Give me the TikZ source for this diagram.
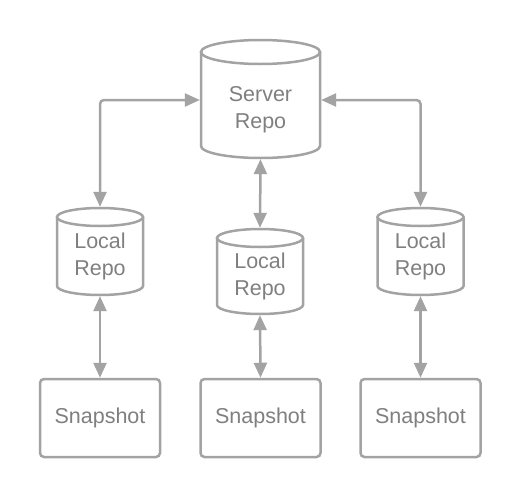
\documentclass[tikz,border=0pt]{standalone}
\usepackage{fontspec}
\setmainfont{Liberation Sans}
\usetikzlibrary{arrows.meta}

\definecolor{linegray}{HTML}{A3A3A3}
\definecolor{txtgray}{HTML}{7F7F7F}

\tikzset{
  repo/.style={rectangle, inner sep=0pt, text=txtgray, align=center,
    font=\fontsize{21.5}{27}\selectfont},
  repoline/.style={draw=linegray, line width=2.5pt},
  snapbox/.style={rectangle, rounded corners=4pt, draw=linegray,
    line width=2.5pt, minimum width=120pt, minimum height=78pt,
    text=txtgray, font=\fontsize{21.5}{27}\selectfont},
  link/.style={draw=linegray, line width=2.5pt, rounded corners=4pt,
    {Triangle[length=15pt,width=13pt]}-{Triangle[length=15pt,width=13pt]}}
}

% cylinder outline round a named node: name, x radius, y radius, height
\newcommand\repocan[4]{%
  \draw[repoline] (#1.center) ++(0,#4/2-#3) ellipse [x radius=#2, y radius=#3];
  \draw[repoline] (#1.center) ++(-#2,#4/2-#3) -- ++(0,-#4+2*#3)
    arc [start angle=180, end angle=360, x radius=#2, y radius=#3]
    -- ++(0,#4-2*#3);
}

\begin{document}
\begin{tikzpicture}[x=1pt, y=1pt]
  \useasboundingbox (0,0) rectangle (520,-498);
  % repositories
  \node[repo, minimum width=121pt, minimum height=120pt] (server) at (260.5,-99) {};
  \node[repo, minimum width=88pt, minimum height=89pt] (localL) at (100,-251.5) {};
  \node[repo, minimum width=88pt, minimum height=87pt] (localM) at (260,-271.5) {};
  \node[repo, minimum width=88pt, minimum height=89pt] (localR) at (420.5,-251.5) {};
  \repocan{server}{59.5}{12}{118}
  \repocan{localL}{43}{9}{87}
  \repocan{localM}{43}{9}{85}
  \repocan{localR}{43}{9}{87}
  \node[repo] (serverText) at ([yshift=-11pt]server.center) {Server\\Repo};
  \node[repo] (localLText) at ([yshift=-5pt]localL.center) {Local\\Repo};
  \node[repo] (localMText) at ([yshift=-5pt]localM.center) {Local\\Repo};
  \node[repo] (localRText) at ([yshift=-5pt]localR.center) {Local\\Repo};
  % snapshots
  \node[snapbox] (snapL) at (100,-418) {Snapshot};
  \node[snapbox] (snapM) at (260.5,-418) {Snapshot};
  \node[snapbox] (snapR) at (420.5,-418) {Snapshot};
  % links
  \draw[link] (server.west |- 0,-100) -- (100,-100) -- (localL.north);
  \draw[link] (server.east |- 0,-100) -- (420.5,-100) -- (localR.north);
  \draw[link] (server.south) -- (localM.north);
  \draw[link] (localL.south) -- (snapL.north);
  \draw[link] (localM.south) -- (snapM.north);
  \draw[link] (localR.south) -- (snapR.north);
\end{tikzpicture}
\end{document}
